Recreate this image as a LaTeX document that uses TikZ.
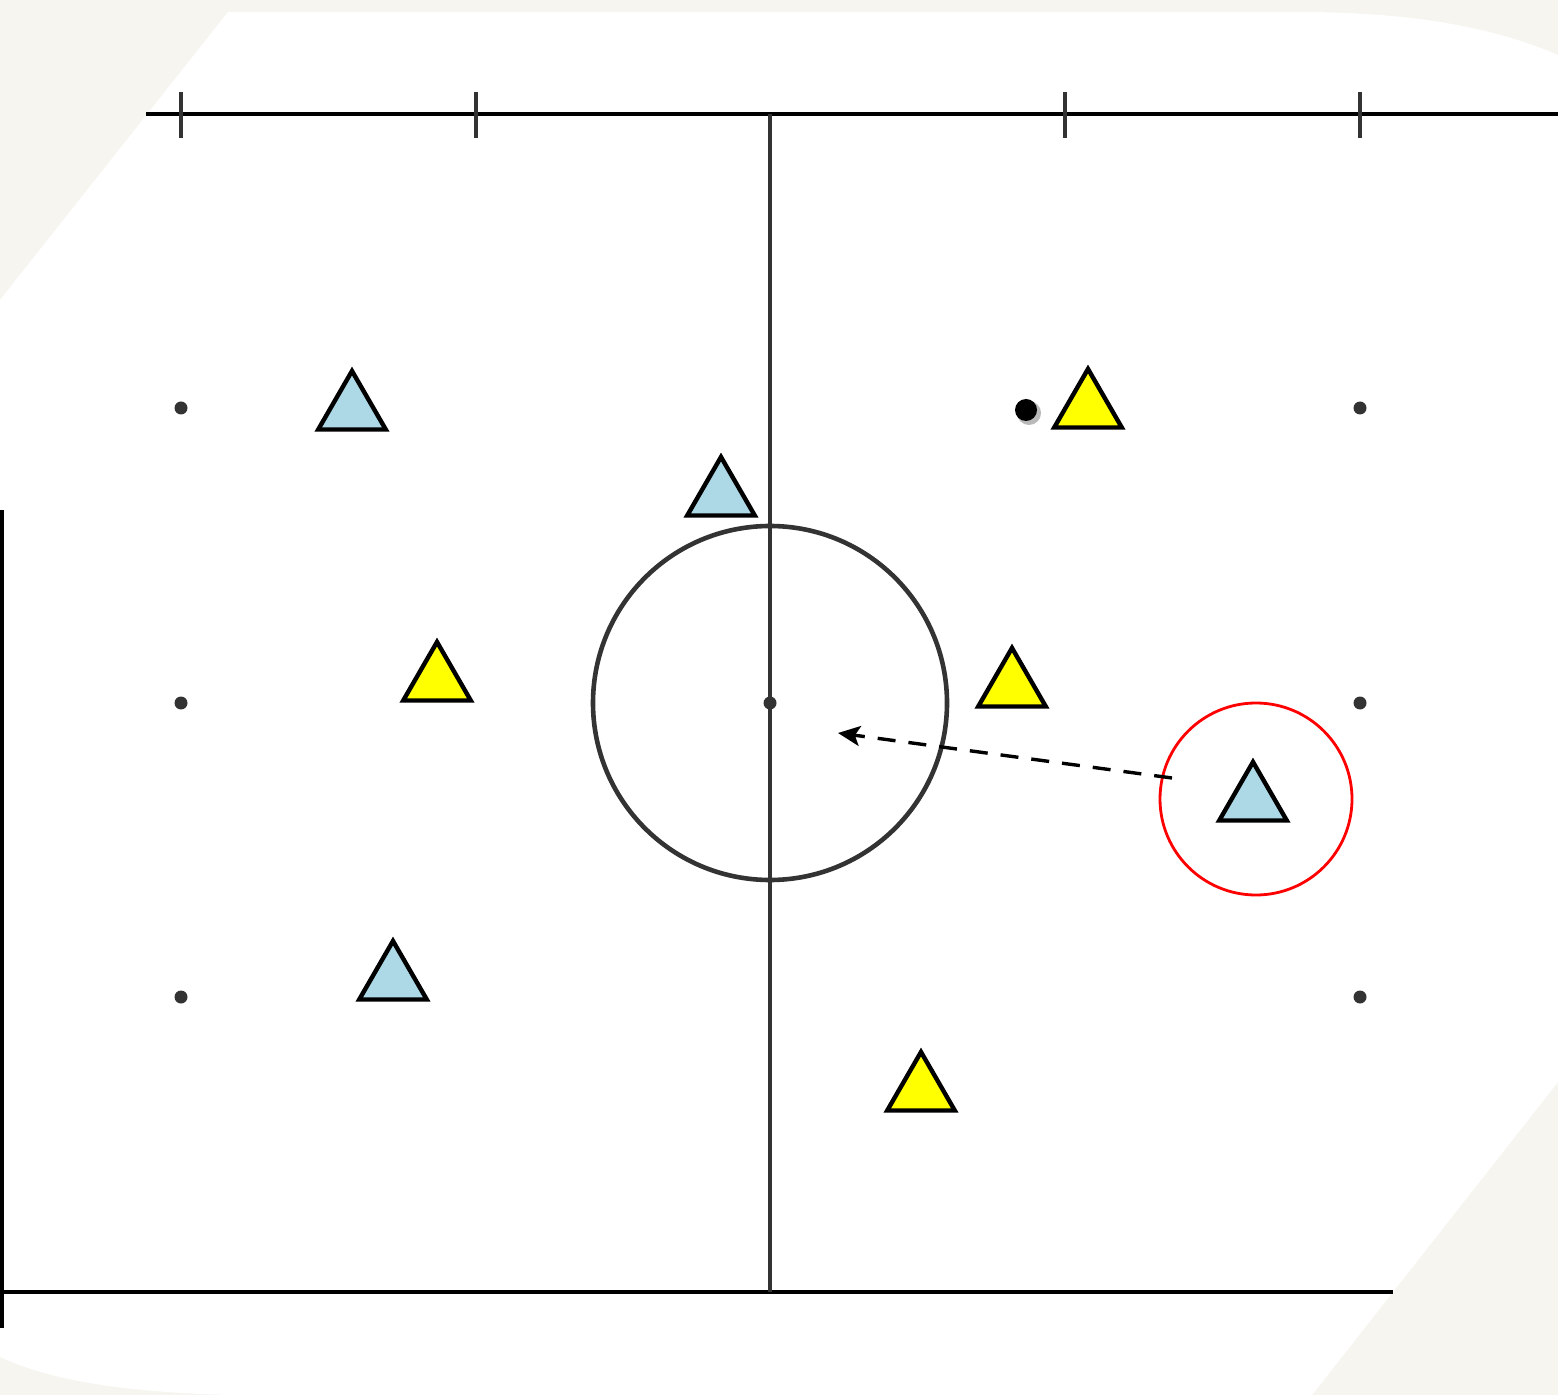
\documentclass[tikz,border=0pt]{standalone}
\usetikzlibrary{shapes.geometric,arrows.meta}
\definecolor{paper}{HTML}{F6F5F0}
\definecolor{ink}{HTML}{333333}
\definecolor{teamblue}{HTML}{ADD8E6}
\definecolor{teamyellow}{HTML}{FFFF00}
\tikzset{
  fieldline/.style={line width=2.4pt, draw=black},
  markline/.style={line width=2.3pt, draw=ink},
  tickmark/.style={line width=2.3pt, draw=ink},
  spot/.style={circle, fill=ink, inner sep=0pt, minimum size=6.5pt},
  player/.style={regular polygon, regular polygon sides=3, draw=black, line width=2.2pt, line join=miter, minimum size=39pt, inner sep=0pt},
  blueplayer/.style={player, fill=teamblue},
  yellowplayer/.style={player, fill=teamyellow},
  runarrow/.style={line width=1.7pt, dash pattern=on 9pt off 6.5pt, -{Stealth[length=11pt,width=10pt,inset=2.5pt]}},
}
\begin{document}
\begin{tikzpicture}[x=0.5pt,y=-0.5pt]
\useasboundingbox (0,0) rectangle (1558,1395);
\fill[paper] (0,0) rectangle (1558,1395);
% white sheet
\fill[white] (228,12) -- (1300,12) .. controls (1420,12) and (1500,30) .. (1558,55)
  -- (1558,1082) -- (1312,1395) -- (230,1395) .. controls (120,1392) and (50,1380) .. (0,1357)
  -- (0,300) -- cycle;
% field boundary lines
\draw[fieldline] (146,114) -- (1558,114);
\draw[fieldline] (0,1292) -- (1393,1292);
\draw[line width=2pt, draw=black] (1.5,510) -- (1.5,1328);
% ticks
\foreach \tx in {181,476,1065,1360}{
  \draw[tickmark] (\tx,92) -- (\tx,138);
}
% halfway line and centre circle
\draw[markline] (770,114) -- (770,1292);
\node[circle, draw=ink, line width=2.3pt, minimum size=177pt, inner sep=0pt] (centrecircle) at (770,703) {};
\node[spot] (centrespot) at (770,703) {};
% spots
\node[spot] (sl1) at (181,408) {};
\node[spot] (sl2) at (181,703) {};
\node[spot] (sl3) at (181,997) {};
\node[spot] (sr1) at (1360,408) {};
\node[spot] (sr2) at (1360,703) {};
\node[spot] (sr3) at (1360,997) {};
% players
\node[blueplayer] (b1) at (352,410) {};
\node[blueplayer] (b2) at (721,496) {};
\node[blueplayer] (b3) at (393,980) {};
\node[blueplayer] (b4) at (1253,801) {};
\node[yellowplayer] (y1) at (1088,408) {};
\node[yellowplayer] (y2) at (437,681) {};
\node[yellowplayer] (y3) at (1012,687) {};
\node[yellowplayer] (y4) at (921,1091) {};
% ball
\fill[gray!55] (1029,413) circle (12);
\node[circle, fill=black, inner sep=0pt, minimum size=11pt] (ball) at (1026,410) {};
% highlight ring
\node[circle, draw=red, line width=1.4pt, minimum size=96pt, inner sep=0pt] (ring) at (1256,799) {};
% run
\coordinate (runstart) at (1172,778);
\coordinate (runend) at (838,733);
\draw[runarrow] (runstart) -- (runend);
\end{tikzpicture}
\end{document}
